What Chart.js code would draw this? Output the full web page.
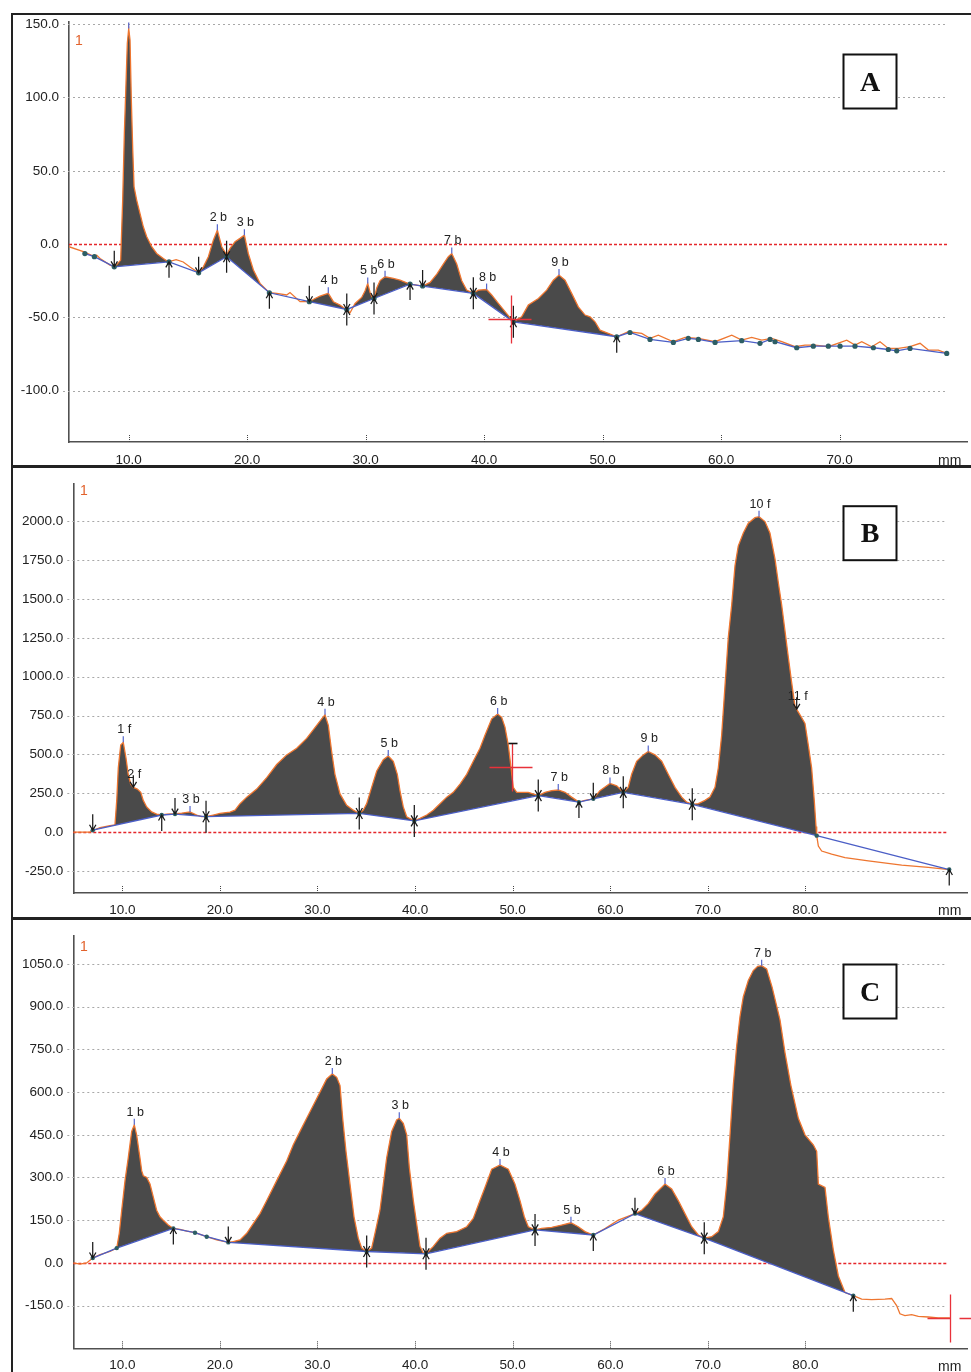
<!DOCTYPE html>
<html>
<head>
<meta charset="utf-8">
<script src="https://cdn.jsdelivr.net/npm/chart.js@4"></script>
<style>
  html,body{margin:0;padding:0;background:#fff;}
  body{width:971px;height:1372px;overflow:hidden;position:relative;}
  canvas{position:absolute;left:0;}
  .frame{position:absolute;box-sizing:border-box;border:2px solid #222;pointer-events:none;}
</style>
</head>
<body>
<canvas id="cA" width="971" height="466" style="top:0px"></canvas>
<canvas id="cB" width="971" height="452" style="top:466px"></canvas>
<canvas id="cC" width="971" height="454" style="top:918px"></canvas>
<div class="frame" style="left:11px;top:13px;width:965px;height:454px"></div>
<div class="frame" style="left:11px;top:466px;width:965px;height:453px"></div>
<div class="frame" style="left:11px;top:918px;width:965px;height:470px"></div>
<script>
// ================= DATA =================
// ---- Panel A ----
const panelLetterA = 'A';
const laneA = '1';
const xTicksA = [10, 20, 30, 40, 50, 60, 70];
const yTicksA = [150, 100, 50, 0, -50, -100];
const profMmA = [4.96, 6.17, 7.01, 7.3, 7.58, 8.42, 8.84, 9.32, 9.49, 9.63, 9.77, 9.88, 10.0, 10.11, 10.22, 10.34, 10.45, 10.67, 10.95, 11.23, 11.52, 11.94, 12.36, 12.92, 13.34,
  14.0, 14.6, 15.2, 15.9, 16.30, 16.72, 17.14, 17.48, 17.85, 18.27, 18.55, 18.97, 19.39, 19.76, 20.09, 20.52, 21.08, 21.65, 21.87,
  22.49, 23.33, 23.61, 24.46, 25.24, 25.72, 26.14, 26.84, 27.27, 27.83, 28.4, 28.68, 29.10, 29.66, 29.94, 30.17, 30.36, 30.59, 30.7,
  30.93, 31.21, 31.63, 32.33, 32.90, 33.46, 33.74, 34.30, 34.8, 35.43, 36.0, 36.55, 36.97, 37.26, 37.68, 38.10, 38.52, 39.08,
  39.50, 40.2, 40.63, 41.19, 41.76, 42.46, 43.16, 43.72, 44.57, 45.27, 45.83, 46.31, 46.82, 47.38, 47.94, 48.51, 48.93, 49.35, 49.77, 50.47, 51.18,
  52.16, 53.29, 53.99, 54.69, 55.96, 56.95, 58.07, 59.48, 60.89, 61.73, 62.57, 63.42, 64.26, 65.11, 66.23, 67.07, 67.91, 69.04, 70.59, 71.29, 71.86, 72.70, 73.40, 74.10, 74.95, 75.93, 76.78, 77.48, 78.32, 79.03];
const profValA = [-1.8, -5.2, -8.2, -7.6, -9.8, -14.3, -15.5, -10.9, 30, 75.5, 109.6, 136.9, 147.1, 139.2, 98.2, 64.1, 39.1, 30, 20.9, 11.8, 5.0, -1.8, -6.4, -9.8, -12.1,
  -10.6, -12.2, -15.8, -19.6, -15.5, -8.6, 2.7, 9.5, -1.8, -7.5, -2.9, 1.6, 3.9, 6.1, -6.4, -17.7, -26.8, -31.4, -33.2,
  -33.6, -34.7, -33.0, -39.3, -39.3, -37.1, -35.5, -33.6, -39.3, -41.6, -45.0, -46.8, -40.5, -36.4, -32.0, -26.8, -32.8, -37.1, -37.1,
  -29.9, -24.9, -22.3, -23.4, -24.6, -26.4, -27.3, -28.0, -28.6, -26.1, -20.5, -13.6, -8.6, -6.4, -13.6, -25.0, -31.4, -33.6,
  -31.4, -31.0, -34.7, -40.4, -46.1, -53.0, -49.6, -41.6, -37.1, -31.4, -24.6, -21.1, -24.6, -33.6, -42.8, -48.4, -49.6, -53.0, -58.7, -60.9, -63.2,
  -59.8, -60.9, -64.3, -62.1, -66.6, -63.7, -64.3, -66.6, -62.1, -65.5, -63.7, -65.5, -64.3, -66.6, -70.0, -68.9, -68.9, -70.0, -65.5, -68.9, -66.6, -70.0, -66.6, -71.2, -71.2, -70.0, -67.7, -72.3, -72.3, -74.6];
const baseMmA = [6.3, 7.1, 8.78, 13.4, 15.9, 18.26, 21.87, 25.24, 28.4, 30.7, 33.74, 34.8, 39.08, 42.46, 51.18,
  52.30, 53.99, 55.96, 57.22, 58.07, 59.48, 61.73, 63.27, 64.12, 64.54, 66.37, 67.77, 69.04, 70.03, 71.29, 72.84, 74.10, 74.81, 75.93, 79.03];
const baseValA = [-6.5, -8.6, -15.5, -12.1, -19.6, -8.6, -33.2, -39.3, -44.6, -37.1, -27.3, -28.6, -33.6, -53.0, -63.2,
  -60.3, -65.0, -67.1, -64.3, -65.0, -67.1, -65.9, -67.7, -65.0, -66.6, -70.7, -69.6, -69.6, -69.6, -69.6, -70.7, -71.9, -72.8, -71.2, -74.6];
const arrowDownA = [8.78, 15.9, 18.26, 25.24, 28.4, 30.7, 34.8, 39.08, 42.46];
const arrowUpA = [13.4, 18.26, 21.87, 28.4, 30.7, 33.74, 39.08, 42.46, 51.18];
const peakNameA = ['', '2 b', '3 b', '4 b', '5 b', '6 b', '7 b', '8 b', '9 b'];
const peakMmA = [10.0, 17.48, 19.76, 26.84, 30.17, 31.63, 37.26, 40.2, 46.31];
const peakValA = [147, 9.5, 6.1, -33.6, -26.8, -22.3, -6.4, -31, -21.1];
const peakMarkA = ['tick', 'tick', 'tick', 'tick', 'tick', 'tick', 'tick', 'tick', 'tick'];
const fillFromA = [8.78, 15.9, 25.24, 34.8];
const fillToA = [13.4, 21.87, 33.74, 51.18];
const cursorA = [42.26, -51.2];

// ---- Panel B ----
const panelLetterB = 'B';
const laneB = '1';
const xTicksB = [10, 20, 30, 40, 50, 60, 70, 80];
const yTicksB = [2000, 1750, 1500, 1250, 1000, 750, 500, 250, 0, -250];
const profMmB = [4.98, 6.69, 6.97, 7.72, 8.74, 9.25, 9.43, 9.59, 9.84, 10.10, 10.38, 10.61, 10.86, 11.13, 11.54, 11.89, 12.15, 12.50, 13.01, 13.52, 14.04,
  14.55, 15.40, 16.09, 16.94, 17.62, 18.13, 18.58, 19.32, 20.01, 21.03, 21.55, 22.06, 22.75, 23.77, 24.80, 25.82, 26.84, 27.87, 28.89, 29.92, 30.43, 30.77,
  31.11, 31.45, 31.79, 32.31, 32.99, 33.67, 34.28, 34.69, 35.04, 35.55, 36.07, 36.74, 37.25, 37.77, 38.18, 38.45, 38.79, 39.14, 39.92,
  40.50, 41.19, 41.87, 42.55, 43.24, 43.91, 44.60, 45.29, 45.96, 46.65, 47.16, 47.85, 48.46, 48.87, 49.21, 49.55, 49.83, 50.06, 50.41, 50.92, 51.60, 52.62,
  53.31, 54.0, 54.67, 55.36, 56.04, 56.79, 57.41, 58.26, 58.94, 59.97, 60.66, 61.33, 61.84, 62.19, 62.70, 63.38, 63.89, 64.58, 65.27, 65.94, 66.63, 67.32, 67.83, 68.40,
  69.02, 69.70, 70.21, 70.73, 71.07, 71.41, 71.75, 72.09, 72.44, 72.78, 73.11, 73.63, 74.14, 74.83, 75.24, 75.85, 76.36, 76.88, 77.21, 77.56, 77.90, 78.24, 78.59, 78.92,
  79.10, 79.44, 79.95, 80.29, 80.63, 80.90, 81.08, 81.15, 81.32, 81.66, 82.68, 84.05, 86.44, 89.86, 92.58, 94.73];
const profValB = [0, 0, 10, 28, 41, 47, 204, 414, 560, 578, 477, 372, 309, 288, 277, 256, 204, 162, 130, 116, 110,
  115, 118, 122, 130, 110, 100, 99, 110, 120, 128, 141, 183, 225, 277, 351, 435, 497, 540, 603, 687, 729, 755,
  687, 519, 372, 246, 173, 141, 120, 141, 183, 288, 393, 466, 490, 456, 372, 267, 162, 99, 72,
  88, 110, 141, 183, 225, 256, 309, 372, 456, 540, 623, 729, 760, 739, 676, 560, 414, 288, 256, 256, 256, 235,
  256, 267, 271, 256, 225, 193, 204, 214, 267, 313, 298, 256, 288, 372, 456, 497, 519, 497, 456, 372, 288, 225, 193, 179,
  183, 204, 225, 288, 414, 623, 938, 1253, 1463, 1715, 1841, 1925, 1988, 2024, 2030, 1999, 1925, 1757, 1610, 1463, 1295, 1127, 960, 812,
  790, 755, 700, 560, 414, 204, 36, -23, -90, -122, -142, -164, -185, -212, -227, -241];
const baseMmB = [6.97, 14.04, 15.40, 18.58, 34.28, 39.92, 52.62, 56.79, 58.26, 61.33, 68.40, 81.15, 94.73];
const baseValB = [12, 110, 116, 99, 120, 72, 235, 193, 214, 256, 179, -23, -241];
const arrowDownB = [6.97, 15.40, 18.58, 34.28, 39.92, 52.62, 58.26, 61.33, 68.40];
const arrowUpB = [14.04, 18.58, 34.28, 39.92, 52.62, 56.79, 61.33, 68.40, 94.73];
const peakNameB = ['1 f', '2 f', '3 b', '4 b', '5 b', '6 b', '7 b', '8 b', '9 b', '10 f', '11 f'];
const peakMmB = [10.10, 11.13, 16.94, 30.77, 37.25, 48.46, 54.67, 59.97, 63.89, 75.24, 79.10];
const peakValB = [578, 288, 130, 755, 490, 760, 271, 313, 519, 2030, 790];
const peakMarkB = ['tick', 'arrow', 'tick', 'tick', 'tick', 'tick', 'tick', 'tick', 'tick', 'tick', 'arrow'];
const fillFromB = [6.97, 15.40, 58.26];
const fillToB = [14.04, 56.79, 81.15];
const cursorB = [49.92, 418];

// ---- Panel C ----
const panelLetterC = 'C';
const laneC = '1';
const xTicksC = [10, 20, 30, 40, 50, 60, 70, 80];
const yTicksC = [1050, 900, 750, 600, 450, 300, 150, 0, -150];
const profMmC = [4.98, 5.67, 6.35, 6.97, 7.72, 8.74, 9.43, 9.69, 9.94, 10.28, 10.61, 10.96, 11.23, 11.47, 11.81, 11.99, 12.15, 12.50, 12.84, 13.18, 13.52, 13.86, 14.20, 14.71, 15.23,
  15.91, 16.60, 17.45, 18.65, 19.67, 20.86, 21.37, 22.06, 22.75, 23.42, 24.11, 24.80, 25.82, 26.84, 27.52, 28.21, 28.89, 29.57, 30.26, 30.94, 31.52, 31.97,
  32.31, 32.58, 32.92, 33.33, 33.74, 34.18, 34.53, 35.04, 35.55, 35.89, 36.40, 37.09, 37.60, 38.11, 38.38, 38.79, 39.14, 39.41, 39.82, 40.16, 40.50, 40.84, 41.12,
  41.87, 42.55, 43.24, 44.26, 45.29, 45.96, 46.65, 47.16, 47.85, 48.70, 49.55, 50.23, 50.75, 51.19, 51.60, 52.29, 52.97, 54.0, 55.02, 55.97, 56.72, 57.41, 58.26,
  59.46, 60.82, 62.53, 63.22, 63.89, 64.58, 65.61, 66.29, 66.97, 67.65, 68.34, 69.02, 69.63, 70.39, 71.07, 71.58, 71.93, 72.27, 72.60, 72.95, 73.29, 73.63, 74.14, 74.65, 75.10, 75.51,
  76.02, 76.58, 77.39, 77.90, 78.51, 79.27, 79.95, 80.80, 81.15, 81.32, 82.0, 82.34, 82.85, 83.37, 84.05, 84.90,
  85.76, 86.78, 88.14, 88.83, 89.34, 89.68, 90.19, 90.88, 91.56, 92.58, 93.61, 94.80];
const profValC = [0, -4, 0, 17, 29, 40, 52, 104, 185, 289, 369, 462, 485, 450, 369, 323, 306, 300, 277, 231, 185, 162, 150, 133, 121,
  118, 112, 106, 92, 81, 72, 75, 81, 104, 138, 173, 219, 289, 358, 415, 462, 508, 554, 600, 646, 664, 652,
  623, 508, 392, 277, 162, 87, 52, 40, 52, 104, 185, 369, 462, 502, 508, 490, 450, 335, 219, 138, 58, 35, 32,
  58, 87, 104, 110, 127, 156, 219, 265, 329, 344, 329, 277, 219, 162, 127, 116, 121, 125, 133, 141, 127, 110, 98,
  121, 150, 173, 185, 208, 242, 277, 260, 219, 173, 127, 98, 87, 92, 110, 162, 277, 450, 623, 762, 865, 935, 992, 1027, 1042, 1044,
  1033, 969, 854, 739, 623, 508, 450, 415, 392, 277, 265, 162, 46, -46, -104, -115,
  -127, -129, -127, -125, -150, -179, -185, -182, -188, -190, -193, -193];
const baseMmC = [6.97, 9.43, 15.23, 17.45, 18.65, 20.86, 35.04, 41.12, 52.29, 58.26, 62.53, 69.63, 84.90];
const baseValC = [17, 52, 121, 106, 92, 72, 40, 32, 116, 98, 173, 87, -115];
const arrowDownC = [6.97, 20.86, 35.04, 41.12, 52.29, 62.53, 69.63];
const arrowUpC = [15.23, 35.04, 41.12, 52.29, 58.26, 69.63, 84.90];
const peakNameC = ['1 b', '2 b', '3 b', '4 b', '5 b', '6 b', '7 b'];
const peakMmC = [11.23, 31.52, 38.38, 48.70, 55.97, 65.61, 75.51];
const peakValC = [485, 664, 508, 344, 141, 277, 1044];
const peakMarkC = ['tick', 'tick', 'tick', 'tick', 'tick', 'tick', 'tick'];
const fillFromC = [6.97, 20.86, 62.53];
const fillToC = [15.23, 58.26, 84.90];
const cursorC = [94.80, -192.5];

// ================= STYLE / LAYOUT =================
const COL = {
  profile: '#ee7630', baseline: '#4b5ec6', fill: '#4a4a4a', marker: '#2d5e64',
  grid: '#a8a8a8', zero: '#e5262b', axis: '#505050', text: '#222', lane: '#e2622c',
  tickBlue: '#5566cc', cursor: '#e8323a'
};
const FONT = '"Liberation Sans", Arial, sans-serif';

function interp(xs, ys, x) {
  if (x <= xs[0]) return ys[0];
  for (let i = 1; i < xs.length; i++) {
    if (x <= xs[i]) {
      const t = (x - xs[i - 1]) / (xs[i] - xs[i - 1]);
      return ys[i - 1] + t * (ys[i] - ys[i - 1]);
    }
  }
  return ys[ys.length - 1];
}

function makeDecor(p) {
  return {
    id: 'decor' + p.letter,
    beforeDatasetsDraw(chart) {
      const {ctx, chartArea: ca, scales: {y}} = chart;
      ctx.save();
      p.yTicks.forEach(v => {
        if (v === 0) return;
        const py = Math.round(y.getPixelForValue(v)) + 0.5;
        ctx.beginPath();
        ctx.lineWidth = 1;
        ctx.strokeStyle = COL.grid; ctx.setLineDash([2, 3]);
        ctx.moveTo(ca.left - 6, py);
        ctx.lineTo(p.gridEnd, py);
        ctx.stroke();
      });
      // zero reference line (red dotted)
      const pz = Math.round(y.getPixelForValue(0)) + 0.5;
      ctx.beginPath();
      ctx.lineWidth = 1.4;
      ctx.strokeStyle = COL.zero; ctx.setLineDash([3, 2]);
      ctx.moveTo(ca.left, pz); ctx.lineTo(p.gridEnd, pz);
      ctx.stroke();
      ctx.restore();
    },
    afterDatasetsDraw(chart) {
      const {ctx, scales: {x, y}} = chart;
      ctx.save();
      const arrow = (px, py, dir, len) => {
        const s = dir === 'down' ? -1 : 1;
        ctx.beginPath();
        ctx.moveTo(px, py + s * len); ctx.lineTo(px, py);
        ctx.moveTo(px - 3.2, py + s * 5.5); ctx.lineTo(px, py); ctx.lineTo(px + 3.2, py + s * 5.5);
        ctx.stroke();
      };
      ctx.strokeStyle = '#1a1a1a'; ctx.lineWidth = 1.25;
      p.arrowDown.forEach(m => arrow(x.getPixelForValue(m), y.getPixelForValue(interp(p.baseMm, p.baseVal, m)), 'down', 16));
      p.arrowUp.forEach(m => arrow(x.getPixelForValue(m), y.getPixelForValue(interp(p.baseMm, p.baseVal, m)), 'up', 16));
      ctx.font = '12.5px ' + FONT; ctx.textAlign = 'center'; ctx.textBaseline = 'alphabetic';
      p.peakName.forEach((name, i) => {
        const px = x.getPixelForValue(p.peakMm[i]);
        const py = y.getPixelForValue(p.peakVal[i]);
        if (p.peakMark[i] === 'arrow') {
          ctx.strokeStyle = '#1a1a1a'; ctx.lineWidth = 1.25;
          arrow(px, py, 'down', 12);
        } else {
          ctx.strokeStyle = COL.tickBlue; ctx.lineWidth = 1.2;
          ctx.beginPath(); ctx.moveTo(px, py); ctx.lineTo(px, py - 6); ctx.stroke();
        }
        if (name) { ctx.fillStyle = COL.text; ctx.fillText(name, px + 1, py - 9); }
      });
      const cx = Math.round(x.getPixelForValue(p.cursor[0])) + 0.5;
      const cy = Math.round(y.getPixelForValue(p.cursor[1])) + 0.5;
      ctx.strokeStyle = COL.cursor; ctx.lineWidth = 1.3;
      ctx.beginPath();
      ctx.moveTo(cx, cy - 24); ctx.lineTo(cx, cy + 24);
      if (p.cursorGap) {
        ctx.moveTo(cx - 23, cy); ctx.lineTo(cx, cy);
        ctx.moveTo(cx + 9, cy); ctx.lineTo(cx + 24, cy);
      } else {
        ctx.moveTo(cx - 23, cy); ctx.lineTo(cx + 20, cy);
      }
      ctx.stroke();
      if (p.cursorCap) {
        ctx.strokeStyle = '#111'; ctx.lineWidth = 1.6;
        ctx.beginPath(); ctx.moveTo(cx - 4, cy - 24); ctx.lineTo(cx + 5, cy - 24); ctx.stroke();
      }
      ctx.restore();
    },
    afterDraw(chart) {
      const {ctx, chartArea: ca, scales: {x}} = chart;
      ctx.save();
      ctx.strokeStyle = '#444'; ctx.lineWidth = 1; ctx.setLineDash([1, 1]);
      p.xTicks.forEach(v => {
        const px = Math.round(x.getPixelForValue(v)) + 0.5;
        ctx.beginPath(); ctx.moveTo(px, ca.bottom - 7); ctx.lineTo(px, ca.bottom); ctx.stroke();
      });
      ctx.setLineDash([]);
      ctx.fillStyle = COL.text; ctx.font = '14px ' + FONT; ctx.textAlign = 'left'; ctx.textBaseline = 'alphabetic';
      ctx.fillText('mm', 938, p.mmBase);
      ctx.fillStyle = COL.lane; ctx.font = '14px ' + FONT;
      ctx.fillText(p.lane, p.laneX, p.laneY);
      const bx = 843.5, by = p.boxTop + 0.5, bw = 53, bh = 54;
      ctx.fillStyle = '#fff'; ctx.fillRect(bx, by, bw, bh);
      ctx.strokeStyle = '#111'; ctx.lineWidth = 2; ctx.strokeRect(bx, by, bw, bh);
      ctx.fillStyle = '#111'; ctx.font = 'bold 28px "Liberation Serif", "Times New Roman", serif';
      ctx.textAlign = 'center'; ctx.textBaseline = 'middle';
      ctx.fillText(p.letter, bx + bw / 2, by + bh / 2 + 2);
      ctx.restore();
    }
  };
}

function makePanel(id, p) {
  const profile = p.profMm.map((m, i) => ({x: m, y: p.profVal[i]}));
  const baseline = p.baseMm.map((m, i) => ({x: m, y: p.baseVal[i]}));
  const datasets = [
    {label: 'baseline', data: baseline, borderColor: COL.baseline, borderWidth: 1.3,
     pointRadius: p.markerR, pointBackgroundColor: COL.marker, pointBorderWidth: 0, fill: false, order: 0},
    {label: 'profile', data: profile, borderColor: COL.profile, borderWidth: 1.3, pointRadius: 0, fill: false, order: 1}
  ];
  p.fillFrom.forEach((s, k) => {
    const e = p.fillTo[k];
    datasets.push({label: 'peak area', data: profile.filter(pt => pt.x >= s - 1e-6 && pt.x <= e + 1e-6),
      borderColor: 'rgba(0,0,0,0)', borderWidth: 0, pointRadius: 0, order: 5,
      fill: {target: 0, above: COL.fill, below: 'rgba(0,0,0,0)'}});
  });
  const canvas = document.getElementById(id);
  new Chart(canvas, {
    type: 'line',
    data: {datasets},
    options: {
      responsive: false, animation: false, devicePixelRatio: 1, events: [],
      layout: {padding: {left: 0, right: 971 - p.right, top: p.top, bottom: 0}},
      elements: {line: {tension: 0}},
      plugins: {legend: {display: false}, tooltip: {enabled: false}},
      scales: {
        x: {
          type: 'linear', min: p.xMin, max: p.xMax,
          afterBuildTicks: s => { s.ticks = p.xTicks.map(v => ({value: v})); },
          afterFit: s => { s.height = canvas.height - p.bottom; },
          grid: {display: false, drawTicks: false},
          border: {display: true, color: COL.axis, width: 1.6},
          ticks: {autoSkip: false, maxRotation: 0, padding: p.xPad, color: COL.text,
                  font: {family: FONT, size: 13.5}, callback: v => Number(v).toFixed(1)}
        },
        y: {
          type: 'linear', min: p.yMin, max: p.yMax,
          afterBuildTicks: s => { s.ticks = p.yTicks.map(v => ({value: v})); },
          afterFit: s => { s.width = p.left; },
          grid: {display: false, drawTicks: false},
          border: {display: true, color: COL.axis, width: 1.6},
          ticks: {padding: 10, color: COL.text, font: {family: FONT, size: 13.5},
                  callback: v => Number(v).toFixed(1)}
        }
      }
    },
    plugins: [makeDecor(p)]
  });
}

makePanel('cA', {
  letter: panelLetterA, lane: laneA, xTicks: xTicksA, yTicks: yTicksA,
  profMm: profMmA, profVal: profValA, baseMm: baseMmA, baseVal: baseValA,
  arrowDown: arrowDownA, arrowUp: arrowUpA, peakName: peakNameA, peakMm: peakMmA, peakVal: peakValA, peakMark: peakMarkA,
  fillFrom: fillFromA, fillTo: fillToA, cursor: cursorA, cursorCap: false, cursorGap: false,
  left: 69, right: 967, top: 22, bottom: 442, xMin: 4.96, xMax: 80.74, yMin: -135, yMax: 151.5,
  gridEnd: 948, xPad: 10, mmBase: 465, laneX: 75, laneY: 45, boxTop: 54, markerR: 2.6
});
makePanel('cB', {
  letter: panelLetterB, lane: laneB, xTicks: xTicksB, yTicks: yTicksB,
  profMm: profMmB, profVal: profValB, baseMm: baseMmB, baseVal: baseValB,
  arrowDown: arrowDownB, arrowUp: arrowUpB, peakName: peakNameB, peakMm: peakMmB, peakVal: peakValB, peakMark: peakMarkB,
  fillFrom: fillFromB, fillTo: fillToB, cursor: cursorB, cursorCap: true, cursorGap: false,
  left: 73.3, right: 967, top: 9, bottom: 427, xMin: 4.98, xMax: 96.55, yMin: -392, yMax: 2240,
  gridEnd: 946.7, xPad: 9, mmBase: 449, laneX: 80, laneY: 29, boxTop: 39.7, markerR: 2.2
});
makePanel('cC', {
  letter: panelLetterC, lane: laneC, xTicks: xTicksC, yTicks: yTicksC,
  profMm: profMmC, profVal: profValC, baseMm: baseMmC, baseVal: baseValC,
  arrowDown: arrowDownC, arrowUp: arrowUpC, peakName: peakNameC, peakMm: peakMmC, peakVal: peakValC, peakMark: peakMarkC,
  fillFrom: fillFromC, fillTo: fillToC, cursor: cursorC, cursorCap: false, cursorGap: true,
  left: 73.3, right: 967, top: 12, bottom: 430.3, xMin: 4.98, xMax: 96.55, yMin: -300, yMax: 1148,
  gridEnd: 946.7, xPad: 9, mmBase: 453, laneX: 80, laneY: 33, boxTop: 46, markerR: 2.2
});
</script>
</body>
</html>
